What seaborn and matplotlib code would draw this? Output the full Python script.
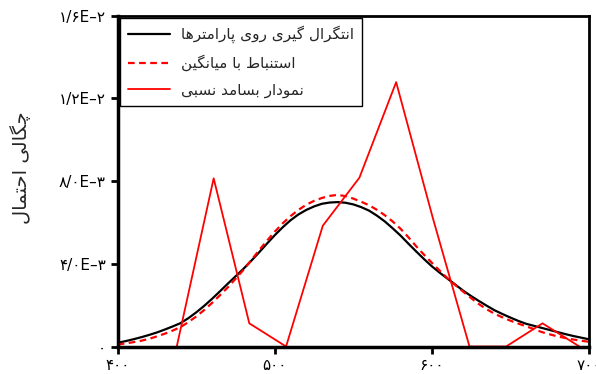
import numpy as np
import pandas as pd
import matplotlib
matplotlib.use('Agg')
import matplotlib.pyplot as plt
import seaborn as sns

# density curves, x step 5
x_curve = list(range(400, 705, 5))
integral_density = [1.8e-4, 2.6e-4, 3.5e-4, 4.5e-4, 5.6e-4, 6.8e-4, 8.2e-4, 9.7e-4, 1.13e-3,
                    1.37e-3, 1.65e-3, 1.96e-3, 2.3e-3, 2.66e-3, 3.03e-3, 3.39e-3, 3.75e-3,
                    4.14e-3, 4.55e-3, 4.97e-3, 5.38e-3, 5.76e-3, 6.1e-3, 6.38e-3, 6.6e-3,
                    6.77e-3, 6.9e-3, 6.96e-3, 6.98e-3, 6.95e-3, 6.87e-3, 6.74e-3, 6.57e-3,
                    6.33e-3, 6.05e-3, 5.72e-3, 5.37e-3, 4.98e-3, 4.6e-3, 4.23e-3, 3.88e-3,
                    3.57e-3, 3.28e-3, 2.99e-3, 2.7e-3, 2.44e-3, 2.2e-3, 1.97e-3, 1.75e-3,
                    1.57e-3, 1.4e-3, 1.24e-3, 1.1e-3, 1.0e-3, 9.0e-4, 8.0e-4, 7.0e-4, 6.0e-4,
                    5.1e-4, 4.3e-4, 3.5e-4]
mean_density = [1.0e-4, 1.5e-4, 2.1e-4, 2.8e-4, 3.7e-4, 4.9e-4, 6.2e-4, 7.7e-4, 9.4e-4,
                1.18e-3, 1.45e-3, 1.76e-3, 2.1e-3, 2.47e-3, 2.85e-3, 3.27e-3, 3.7e-3,
                4.17e-3, 4.65e-3, 5.11e-3, 5.55e-3, 5.95e-3, 6.3e-3, 6.6e-3, 6.85e-3,
                7.04e-3, 7.18e-3, 7.28e-3, 7.33e-3, 7.27e-3, 7.15e-3, 7.0e-3, 6.83e-3,
                6.61e-3, 6.35e-3, 6.05e-3, 5.7e-3, 5.29e-3, 4.85e-3, 4.44e-3, 4.05e-3,
                3.67e-3, 3.3e-3, 2.97e-3, 2.65e-3, 2.34e-3, 2.05e-3, 1.8e-3, 1.58e-3,
                1.41e-3, 1.25e-3, 1.11e-3, 9.8e-4, 8.4e-4, 7.0e-4, 5.9e-4, 4.9e-4, 4.1e-4,
                3.4e-4, 2.8e-4, 2.3e-4]

# relative frequency polygon
freq_x = [437.6, 461.1, 483.8, 507.2, 530.6, 553.9, 577.3, 600.7, 624.0, 647.3, 670.5, 694.0]
freq_density = [0.0, 8.13e-3, 1.12e-3, 0.0, 5.84e-3, 8.16e-3, 1.278e-2, 6.2e-3, 0.0, 0.0, 1.12e-3, 0.0]

labels = ['انتگرال گیری روی پارامترها', 'استنباط با میانگین', 'نمودار بسامد نسبی']
y_label = 'چگالی احتمال'

x_ticks = [400, 500, 600, 700]
x_tick_labels = ['۴۰۰', '۵۰۰', '۶۰۰', '۷۰۰']
y_ticks = [0, 0.004, 0.008, 0.012, 0.016]
y_tick_labels = ['۰', '۴/۰E–۳', '۸/۰E–۳', '۱/۲E–۲', '۱/۶E–۲']

# matplotlib has no arabic shaping, so pick presentation forms by hand
# (isolated, final, initial, medial)
FORMS = {
    'ا': ('\uFE8D', '\uFE8E', None, None),
    'د': ('\uFEA9', '\uFEAA', None, None),
    'ر': ('\uFEAD', '\uFEAE', None, None),
    'و': ('\uFEED', '\uFEEE', None, None),
    'ب': ('\uFE8F', '\uFE90', '\uFE91', '\uFE92'),
    'ت': ('\uFE95', '\uFE96', '\uFE97', '\uFE98'),
    'ح': ('\uFEA1', '\uFEA2', '\uFEA3', '\uFEA4'),
    'س': ('\uFEB1', '\uFEB2', '\uFEB3', '\uFEB4'),
    'ط': ('\uFEC1', '\uFEC2', '\uFEC3', '\uFEC4'),
    'ل': ('\uFEDD', '\uFEDE', '\uFEDF', '\uFEE0'),
    'م': ('\uFEE1', '\uFEE2', '\uFEE3', '\uFEE4'),
    'ن': ('\uFEE5', '\uFEE6', '\uFEE7', '\uFEE8'),
    'ه': ('\uFEE9', '\uFEEA', '\uFEEB', '\uFEEC'),
    'پ': ('\uFB56', '\uFB57', '\uFB58', '\uFB59'),
    'چ': ('\uFB7A', '\uFB7B', '\uFB7C', '\uFB7D'),
    'گ': ('\uFB92', '\uFB93', '\uFB94', '\uFB95'),
    'ی': ('\uFBFC', '\uFBFD', '\uFBFE', '\uFBFF'),
}


def shape(text):
    out = []
    for i, ch in enumerate(text):
        if ch not in FORMS:
            out.append(ch)
            continue
        prev = text[i - 1] if i > 0 else ''
        nxt = text[i + 1] if i + 1 < len(text) else ''
        join_prev = prev in FORMS and FORMS[prev][2] is not None
        join_next = FORMS[ch][2] is not None and nxt in FORMS
        isol, fin, ini, med = FORMS[ch]
        if join_prev and join_next:
            out.append(med)
        elif join_prev:
            out.append(fin)
        elif join_next:
            out.append(ini)
        else:
            out.append(isol)
    return ''.join(out)[::-1]


sns.set_style('white')
plt.rcParams['font.family'] = ['DejaVu Sans']

curves = pd.DataFrame({'x': x_curve, 'integral': integral_density, 'mean': mean_density})
freq = pd.DataFrame({'x': freq_x, 'density': freq_density})

fig = plt.figure(figsize=(5.96, 3.74), dpi=100)
ax = fig.add_axes([0.1975, 0.0735, 0.7905, 0.885])

sns.lineplot(data=curves, x='x', y='integral', ax=ax, color='black', linewidth=1.6,
             label=shape(labels[0]))
sns.lineplot(data=curves, x='x', y='mean', ax=ax, color='red', linewidth=1.6,
             linestyle=(0, (3, 2)), label=shape(labels[1]))
sns.lineplot(data=freq, x='x', y='density', ax=ax, color='red', linewidth=1.3,
             label=shape(labels[2]))

ax.set_xlim(400, 700)
ax.set_ylim(0, 0.016)
ax.set_xticks(x_ticks)
ax.set_xticklabels(x_tick_labels)
ax.set_yticks(y_ticks)
ax.set_yticklabels(y_tick_labels)
ax.set_xlabel('')
ax.set_ylabel(shape(y_label), fontsize=14)
ax.yaxis.set_label_coords(-0.185, 0.54)
ax.tick_params(axis='both', direction='out', length=5, width=2, labelsize=11,
               bottom=True, left=True, colors='black')
for s in ax.spines.values():
    s.set_linewidth(2)
    s.set_color('black')
ax.spines['left'].set_linewidth(2.5)
ax.spines['bottom'].set_linewidth(2.5)

leg = ax.legend(loc='upper left', bbox_to_anchor=(0, 1), borderaxespad=0.15, fancybox=False,
                framealpha=1, edgecolor='black', fontsize=11, handlelength=2.8,
                labelspacing=0.75, handletextpad=0.7, borderpad=0.5)
leg.get_frame().set_linewidth(1)

fig.savefig('out.png', dpi=100)
